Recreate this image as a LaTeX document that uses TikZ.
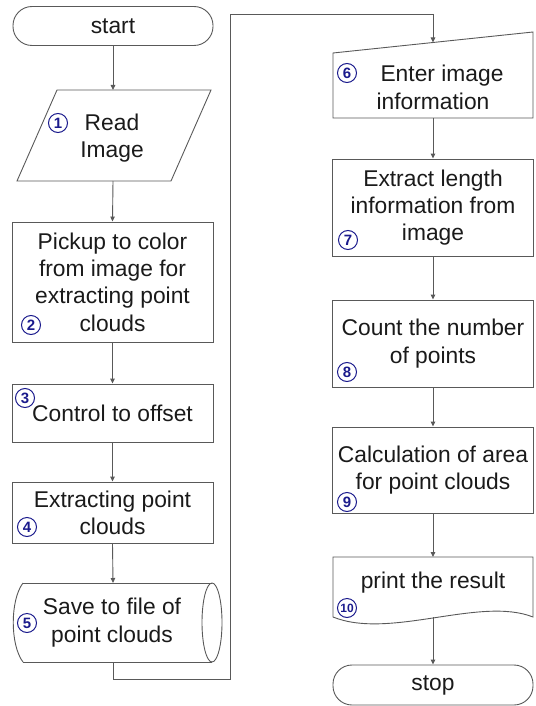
\documentclass[tikz,border=0pt]{standalone}
\usepackage{fontspec}
\setmainfont{Liberation Sans}
\usetikzlibrary{arrows.meta}
\definecolor{linegray}{HTML}{595959}
\definecolor{txt}{HTML}{1A1A1A}
\definecolor{navy}{HTML}{1A1A8C}
\begin{document}
\begin{tikzpicture}[x=1pt,y=-1pt,
  every node/.style={text=txt,font=\fontsize{22.8}{27.3}\selectfont,align=center,inner sep=0pt},
  shapeline/.style={draw=linegray,line width=0.9pt},
  procbox/.style={shapeline,rectangle,minimum width=201pt},
  termbox/.style={shapeline,rectangle,rounded corners=19pt,minimum width=200pt,minimum height=39pt},
  flow/.style={draw=linegray,line width=0.9pt,-{Triangle[length=5pt,width=4.5pt]}},
  loopline/.style={draw=linegray,line width=0.9pt},
  numc/.style={circle,draw=navy,line width=1pt,minimum size=19pt,text=navy,font=\fontsize{15}{15}\selectfont\bfseries},
  numcc/.style={numc,font=\fontsize{12}{12}\selectfont\bfseries}]
\useasboundingbox (0,0) rectangle (535,706);

% left column
\node[termbox] (start) at (113,26) {start};

\draw[shapeline] (57,90) -- (211,90) -- (171,181) -- (17,181) -- cycle;
\coordinate (readtop) at (113,90);
\coordinate (readbot) at (113,181);
\node (read) at (112,138) {Read\\Image};

\node[procbox,minimum height=120pt] (pick) at (112.5,282) {Pickup to color\\from image for\\extracting point\\clouds};
\node[procbox,minimum height=58pt] (offset) at (112.5,413) {Control to offset};
\node[procbox,minimum height=61pt] (extract) at (112.5,512.5) {Extracting point\\clouds};

\draw[shapeline] (23,583) -- (212,583);
\draw[shapeline] (23,662) -- (212,662);
\draw[shapeline] (23,583) .. controls (10,600) and (10,645) .. (23,662);
\draw[shapeline] (212,622.5) ellipse [x radius=10, y radius=39.5];
\coordinate (savetop) at (113,583);
\coordinate (savebot) at (113,662);
\node (save) at (112,622.5) {Save to file of\\point clouds};

% right column
\draw[shapeline] (333,53) -- (533,32) -- (533,118) -- (333,118) -- cycle;
\coordinate (entertop) at (433,42.5);
\coordinate (enterbot) at (433,118);
\node (enter) at (433,87.5) {\hspace*{18pt}Enter image\\information};

\node[procbox,minimum height=97pt] (length) at (433,207.5) {Extract length\\information from\\image};
\node[procbox,minimum height=87pt] (count) at (433,343.5) {Count the number\\of points};
\node[procbox,minimum height=86pt] (area) at (433,470) {Calculation of area\\for point clouds};

\draw[shapeline] (333,557) -- (533,557) -- (533,617) .. controls (480,596) and (390,640) .. (333,617) -- cycle;
\coordinate (printtop) at (433,557);
\coordinate (printbot) at (433,617);
\node (print) at (433,583) {print the result};

\node[termbox,minimum height=40pt] (stop) at (433,685) {stop};

% numbers
\node[numc] (c1) at (58,123) {1};
\node[numc] (c2) at (31,325) {2};
\node[numc] (c3) at (25,398) {3};
\node[numc] (c4) at (27,527) {4};
\node[numc] (c5) at (27,623) {5};
\node[numc] (c6) at (347,73) {6};
\node[numc] (c7) at (348,240) {7};
\node[numc] (c8) at (347,372) {8};
\node[numc] (c9) at (347,502) {9};
\node[numcc] (c10) at (347,608) {10};

% connectors
\draw[flow] (start.south) -- (readtop);
\draw[flow] (readbot) -- (pick.north);
\draw[flow] (pick.south) -- (offset.north);
\draw[flow] (offset.south) -- (extract.north);
\draw[flow] (extract.south) -- (savetop);
\coordinate (loopa) at (113,679);
\coordinate (loopb) at (230,679);
\coordinate (loopc) at (230,14);
\coordinate (loopd) at (433,14);
\draw[loopline] (savebot) -- (loopa) -- (loopb) -- (loopc) -- (loopd);
\draw[flow] (loopd) -- (entertop);
\draw[flow] (enterbot) -- (length.north);
\draw[flow] (length.south) -- (count.north);
\draw[flow] (count.south) -- (area.north);
\draw[flow] (area.south) -- (printtop);
\draw[flow] (printbot) -- (stop.north);
\end{tikzpicture}
\end{document}
